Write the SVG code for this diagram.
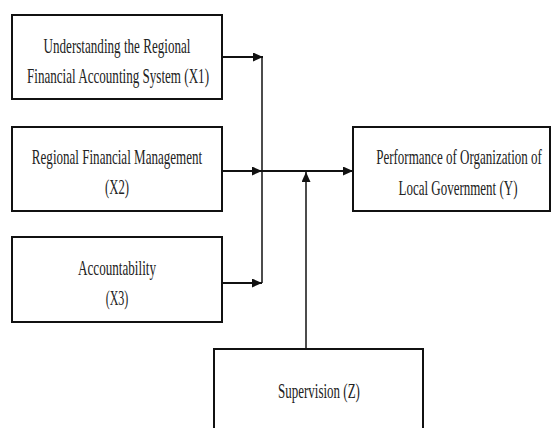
<svg xmlns="http://www.w3.org/2000/svg" width="552" height="428" viewBox="0 0 552 428">
<style>
.box{fill:#fff;stroke:#111;stroke-width:2}
.t{font-family:"Liberation Serif","Times New Roman",serif;font-size:21px;fill:#222;text-anchor:middle}
.c{fill:none;stroke:#111;stroke-width:2}
.v{fill:none;stroke:#111;stroke-width:1.5}
</style>
<defs>
<marker id="ah" markerWidth="11" markerHeight="10" refX="10" refY="4.5" orient="auto" markerUnits="userSpaceOnUse">
<path d="M0,0 L10,4.5 L0,9 Z" fill="#111"/>
</marker>
</defs>
<rect width="552" height="428" fill="#fff"/>
<g id="connectors">
<line class="v" x1="262" y1="57" x2="262" y2="283"/>
<line class="c" x1="222" y1="57" x2="263" y2="57" marker-end="url(#ah)"/>
<line class="c" x1="222" y1="171" x2="262" y2="171" marker-end="url(#ah)"/>
<line class="c" x1="222" y1="283" x2="262" y2="283" marker-end="url(#ah)"/>
<line class="c" x1="262" y1="171" x2="353" y2="171" marker-end="url(#ah)"/>
<line class="v" x1="306" y1="349" x2="306" y2="172" marker-end="url(#ah)"/>
</g>
<g id="X1">
<rect class="box" x="12" y="15" width="210" height="84"/>
<text class="t" transform="translate(117 53) scale(0.65 1)" textLength="226" lengthAdjust="spacingAndGlyphs">Understanding the Regional</text>
<text class="t" transform="translate(118 83) scale(0.65 1)" textLength="280" lengthAdjust="spacingAndGlyphs">Financial Accounting System (X1)</text>
</g>
<g id="X2">
<rect class="box" x="12" y="127" width="210" height="84"/>
<text class="t" transform="translate(117 164) scale(0.65 1)" textLength="262" lengthAdjust="spacingAndGlyphs">Regional Financial Management</text>
<text class="t" transform="translate(117 194) scale(0.65 1)" textLength="37" lengthAdjust="spacingAndGlyphs">(X2)</text>
</g>
<g id="X3">
<rect class="box" x="12" y="237" width="210" height="85"/>
<text class="t" transform="translate(117 275) scale(0.65 1)" textLength="120" lengthAdjust="spacingAndGlyphs">Accountability</text>
<text class="t" transform="translate(117 305) scale(0.65 1)" textLength="35" lengthAdjust="spacingAndGlyphs">(X3)</text>
</g>
<g id="Y">
<rect class="box" x="353" y="127" width="197" height="84"/>
<text class="t" transform="translate(459 164) scale(0.65 1)" textLength="255" lengthAdjust="spacingAndGlyphs">Performance of Organization of</text>
<text class="t" transform="translate(458 195) scale(0.65 1)" textLength="183" lengthAdjust="spacingAndGlyphs">Local Government (Y)</text>
</g>
<g id="Z">
<rect class="box" x="214" y="349" width="209" height="90"/>
<text class="t" transform="translate(319 398) scale(0.65 1)" textLength="126" lengthAdjust="spacingAndGlyphs">Supervision (Z)</text>
</g>
</svg>
